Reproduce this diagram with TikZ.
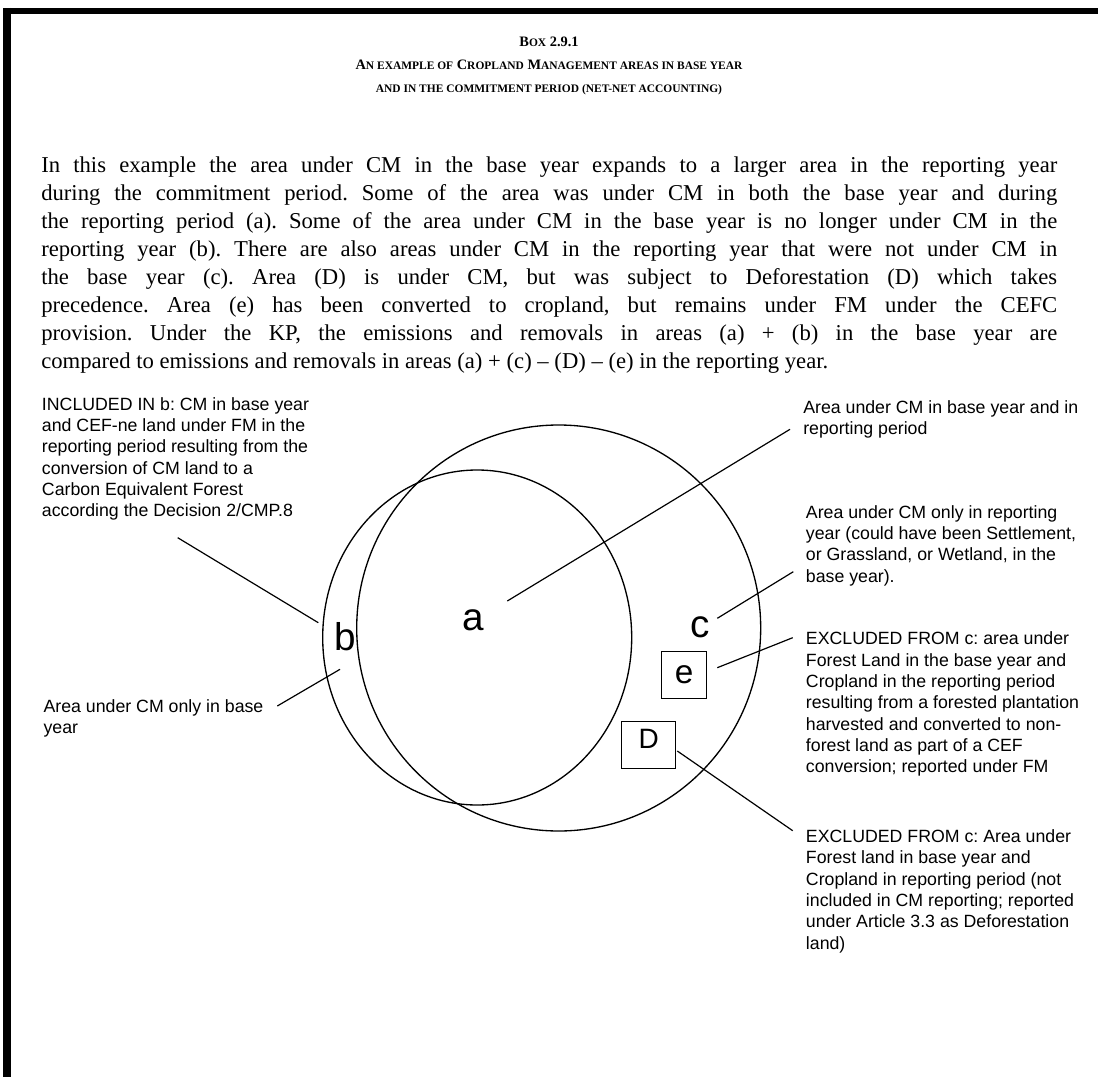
\documentclass[tikz,border=0pt]{standalone}
\usepackage{fontspec}
\setmainfont{Liberation Serif}
\setsansfont{Liberation Sans}
\frenchspacing
\newcommand{\smcap}[1]{{\fontsize{8.6pt}{10pt}\selectfont #1}}

\begin{document}
\begin{tikzpicture}[
		x=0.75pt, y=-0.75pt,
		venn/.style={line width=1pt},
		leader/.style={line width=0.9pt},
		heading/.style={anchor=base, inner sep=0pt, font=\bfseries\fontsize{10.8pt}{13pt}\selectfont},
		note/.style={anchor=north west, inner sep=0pt, align=left, font=\sffamily\fontsize{13.3pt}{16pt}\selectfont},
		region/.style={inner sep=0pt, font=\sffamily\fontsize{29pt}{34pt}\selectfont},
		patch/.style={draw, line width=0.9pt, inner sep=0pt}
		]
		
		\useasboundingbox (0,0) rectangle (1098,1077);
		
		% ---------------------------------------------------------
		% Frame of the box
		% ---------------------------------------------------------
		\draw[line width=4.5pt] (3,11) -- (1098,11);
		\draw[line width=6pt] (7,8) -- (7,1077);
		
		% ---------------------------------------------------------
		% Heading and text
		% ---------------------------------------------------------
		\node[heading] (boxno) at (549,47) {B\smcap{OX} 2.9.1};
		\node[heading] (title1) at (549,70) {A\smcap{N EXAMPLE OF} C\smcap{ROPLAND} M\smcap{ANAGEMENT AREAS IN BASE YEAR}};
		\node[heading] (title2) at (549,93) {\smcap{AND IN THE COMMITMENT PERIOD (NET-NET ACCOUNTING)}};
		
		\node[anchor=north west, inner sep=0pt, text width=762pt, align=justify,
			font=\fontsize{17pt}{21pt}\selectfont] (body) at (41,157) {\noindent\tolerance=10000
			In this example the area under CM in the base year expands to a larger area in the reporting year\linebreak
			during the commitment period. Some of the area was under CM in both the base year and during\linebreak
			the reporting period (a). Some of the area under CM in the base year is no longer under CM in the\linebreak
			reporting year (b). There are also areas under CM in the reporting year that were not under CM in\linebreak
			the base year (c). Area (D) is under CM, but was subject to Deforestation (D) which takes\linebreak
			precedence. Area (e) has been converted to cropland, but remains under FM under the CEFC\linebreak
			provision. Under the KP, the emissions and removals in areas (a) + (b) in the base year are\linebreak
			compared to emissions and removals in areas (a) + (c) -- (D) -- (e) in the reporting year.};
		
		% ---------------------------------------------------------
		% Venn: base year (small) and reporting year (large)
		% ---------------------------------------------------------
		\draw[venn] (477.2,637.5) ellipse [x radius=154.5, y radius=167.5];
		\draw[venn] (558.7,628) ellipse [x radius=202, y radius=203];
		
		\node[region] (a) at (473.5,620) {a};
		\node[region] (b) at (345,637) {b};
		\node[region] (c) at (700.5,627.5) {c};
		\node[patch, minimum width=33.75pt, minimum height=35pt,
			font=\sffamily\fontsize{25pt}{30pt}\selectfont] (e) at (684.2,675) {e};
		\node[patch, minimum width=40.5pt, minimum height=35pt, text height=15pt, text depth=10.5pt,
			font=\sffamily\fontsize{21pt}{25pt}\selectfont] (D) at (648.7,745) {D};
		
		% ---------------------------------------------------------
		% Notes
		% ---------------------------------------------------------
		\node[note] (note b in) at (41.7,397) {INCLUDED IN b: CM in base year\\and CEF-ne land under FM in the\\reporting period resulting from the\\conversion of CM land to a\\Carbon Equivalent Forest\\according the Decision 2/CMP.8};
		\node[note] (note b) at (43.3,699) {Area under CM only in base\\year};
		\node[note] (note a) at (803,400) {Area under CM in base year and in\\reporting period};
		\node[note] (note c) at (805.7,505) {Area under CM only in reporting\\year (could have been Settlement,\\or Grassland, or Wetland, in the\\base year).};
		\node[note] (note e) at (805.7,631.7) {EXCLUDED FROM c: area under\\Forest Land in the base year and\\Cropland in the reporting period\\resulting from a forested plantation\\harvested and converted to non-\\forest land as part of a CEF\\conversion; reported under FM};
		\node[note] (note D) at (805.7,829.3) {EXCLUDED FROM c: Area under\\Forest land in base year and\\Cropland in reporting period (not\\included in CM reporting; reported\\under Article 3.3 as Deforestation\\land)};
		
		% leader ends
		\coordinate (a tip) at (507.3,601);
		\coordinate (a end) at (790,429.3);
		\coordinate (b in tip) at (318.3,622.7);
		\coordinate (b in end) at (177.7,537.7);
		\coordinate (b tip) at (340,669.3);
		\coordinate (b end) at (277.3,706);
		\coordinate (c tip) at (717.3,618.3);
		\coordinate (c end) at (793.3,571.7);
		\coordinate (e tip) at (717.3,667.7);
		\coordinate (e end) at (792.7,637.7);
		\coordinate (D tip) at (677.3,751);
		\coordinate (D end) at (792.7,830.7);
		
		\draw[leader] (a tip) -- (a end);
		\draw[leader] (b in tip) -- (b in end);
		\draw[leader] (b tip) -- (b end);
		\draw[leader] (c tip) -- (c end);
		\draw[leader] (e tip) -- (e end);
		\draw[leader] (D tip) -- (D end);
		
	\end{tikzpicture}
\end{document}
